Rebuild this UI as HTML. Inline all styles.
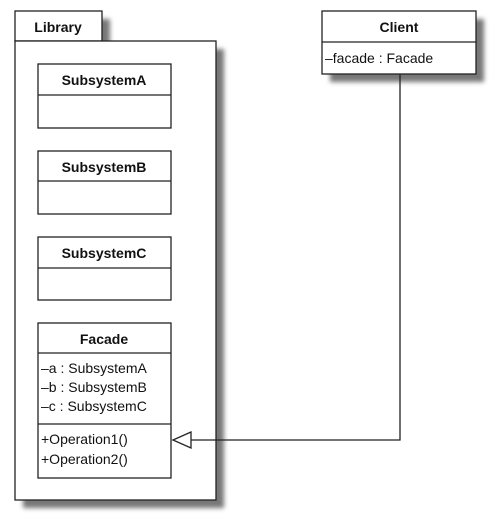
<!DOCTYPE html>
<html><head><style>
body{margin:0;background:#fff;}
svg text{font-family:"Liberation Sans",sans-serif;font-size:14px;fill:#111;}
</style></head><body>
<svg width="494" height="519" viewBox="0 0 494 519" xmlns="http://www.w3.org/2000/svg">
<defs><filter id="b" x="-10%" y="-10%" width="130%" height="130%"><feGaussianBlur stdDeviation="2.5"/></filter></defs>
<g fill="#777" filter="url(#b)">
<rect x="23" y="19" width="87" height="30"/>
<rect x="23" y="49" width="201" height="459"/>
<rect x="330" y="19" width="154" height="63"/>
</g>
<g fill="#fff" stroke="#222" stroke-width="1.3">
<rect x="15" y="11" width="87" height="30"/>
<rect x="15" y="41" width="201" height="459"/>
<rect x="322" y="11" width="154" height="63"/>
<rect x="38" y="64" width="133" height="64"/>
<rect x="38" y="151" width="133" height="63"/>
<rect x="38" y="237" width="133" height="63"/>
<rect x="38" y="323" width="133" height="155"/>
<path d="M322 42H476M38 95H171M38 181H171M38 268H171M38 353H171M38 424H171" fill="none"/>
<path d="M400 74V440H191" fill="none"/>
<path d="M191 432L173 440L191 448Z"/>
</g>
<g font-weight="bold" text-anchor="middle">
<text x="58" y="32" style="font-weight:bold">Library</text>
<text x="399" y="32" style="font-weight:bold">Client</text>
<text x="104" y="85" style="font-weight:bold">SubsystemA</text>
<text x="104" y="172" style="font-weight:bold">SubsystemB</text>
<text x="104" y="258" style="font-weight:bold">SubsystemC</text>
<text x="104" y="344" style="font-weight:bold">Facade</text>
</g>
<text x="325" y="63">–facade : Facade</text>
<text x="41" y="373">–a : SubsystemA</text>
<text x="41" y="392">–b : SubsystemB</text>
<text x="41" y="411">–c : SubsystemC</text>
<text x="41" y="444">+Operation1()</text>
<text x="41" y="464">+Operation2()</text>
</svg>
</body></html>
